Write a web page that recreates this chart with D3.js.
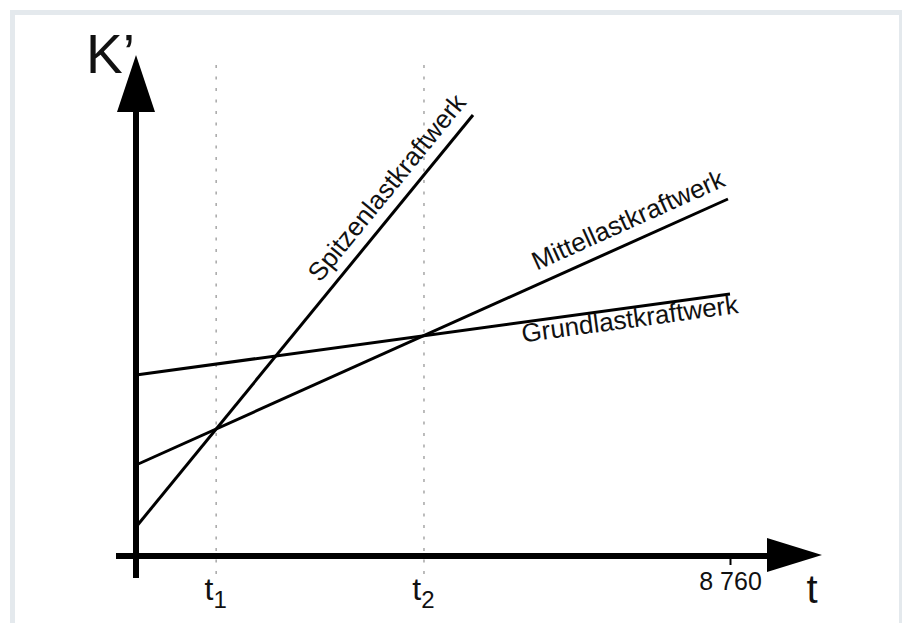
<!DOCTYPE html>
<html>
<head>
<meta charset="utf-8">
<script src="https://cdn.jsdelivr.net/npm/d3@7"></script>
<style>
  html, body { margin: 0; padding: 0; background: #ffffff; }
  svg { display: block; }
  text { font-family: "Liberation Sans", Arial, Helvetica, sans-serif; fill: #111; }
</style>
</head>
<body>
<script>
// ---- data ----
const xDomain = [0, 8760];          // hours per year
const yDomain = [0, 100];           // K' (relative units)
const tickValues = [1182, 4247, 8760];
const tickNames = [["t", "1"], ["t", "2"], ["8 760", ""]];
const seriesNames = ["Grundlastkraftwerk", "Mittellastkraftwerk", "Spitzenlastkraftwerk"];
const grundPoints = [[0, 36.0], [8760, 52.2]];
const mittelPoints = [[0, 18.0], [8730, 71.2]];
const spitzenPoints = [[0, 5.6], [4970, 88.0]];
const seriesPoints = [grundPoints, mittelPoints, spitzenPoints];
const labelAt = [5665, 5990, 2850];   // where along each line the label starts (t)

// ---- layout ----
const W = 902, H = 623;
const svg = d3.select("body").append("svg").attr("width", W).attr("height", H);
svg.append("rect").attr("width", W).attr("height", H).attr("fill", "#fff");
svg.append("rect").attr("x", 12.5).attr("y", 12.5).attr("width", 889).attr("height", 640)
  .attr("fill", "none").attr("stroke", "#e4e9ed").attr("stroke-width", 5);

const x = d3.scaleLinear().domain(xDomain).range([136, 730]);
const y = d3.scaleLinear().domain(yDomain).range([555, 55]);

// dotted guides at t1, t2
svg.selectAll("line.guide").data(tickValues.slice(0, 2)).enter().append("line")
  .attr("class", "guide")
  .attr("x1", d => x(d)).attr("x2", d => x(d))
  .attr("y1", 65).attr("y2", 576)
  .attr("stroke", "#999").attr("stroke-width", 1.3).attr("stroke-dasharray", "3,8.5");

// series lines
const line = d3.line().x(d => x(d[0])).y(d => y(d[1]));
svg.selectAll("path.series").data(seriesPoints).enter().append("path")
  .attr("class", "series")
  .attr("d", line).attr("fill", "none").attr("stroke", "#000").attr("stroke-width", 3);

// series labels
const labelOffset = [20, -13, -12];
seriesPoints.forEach((pts, i) => {
  const [p0, p1] = pts;
  const ang = Math.atan2(y(p1[1]) - y(p0[1]), x(p1[0]) - x(p0[0])) * 180 / Math.PI;
  const t = labelAt[i];
  const k = p0[1] + (p1[1] - p0[1]) * (t - p0[0]) / (p1[0] - p0[0]);
  svg.append("text")
    .attr("transform", `translate(${x(t)},${y(k)}) rotate(${ang})`)
    .attr("y", labelOffset[i])
    .attr("font-size", 26)
    .text(seriesNames[i]);
});

// x axis (ticks + labels via d3 axis)
const xAxis = d3.axisBottom(x).tickValues(tickValues).tickSize(0).tickPadding(0).tickFormat("");
const gx = svg.append("g").attr("transform", "translate(0,556)").call(xAxis);
gx.select(".domain").remove();
gx.selectAll(".tick").each(function(d, i) {
  const g = d3.select(this);
  const nm = tickNames[i];
  if (nm[1] === "") {
    g.append("line").attr("y1", 0).attr("y2", 9).attr("stroke", "#000").attr("stroke-width", 2);
    g.append("text").attr("y", 34).attr("text-anchor", "middle").attr("font-size", 25).text(nm[0]);
  } else {
    const tx = g.append("text").attr("y", 44).attr("x", -1).attr("text-anchor", "middle");
    tx.append("tspan").attr("font-size", 32).text(nm[0]);
    tx.append("tspan").attr("font-size", 24).attr("dy", 8).text(nm[1]);
  }
});

// axis lines with arrows
svg.append("line").attr("x1", 116).attr("x2", 770).attr("y1", 556).attr("y2", 556)
  .attr("stroke", "#000").attr("stroke-width", 6);
svg.append("line").attr("x1", 136).attr("x2", 136).attr("y1", 578).attr("y2", 108)
  .attr("stroke", "#000").attr("stroke-width", 6);
svg.append("path").attr("d", "M822,555 L767,538 L767,572 Z").attr("fill", "#000");
svg.append("path").attr("d", "M136,55 L117,112 L155,112 Z").attr("fill", "#000");

// axis titles
svg.append("text").attr("x", 86).attr("y", 73).attr("font-size", 55).text("K’");
svg.append("text").attr("x", 812).attr("y", 603).attr("text-anchor", "middle").attr("font-size", 40).text("t");
</script>
</body>
</html>
